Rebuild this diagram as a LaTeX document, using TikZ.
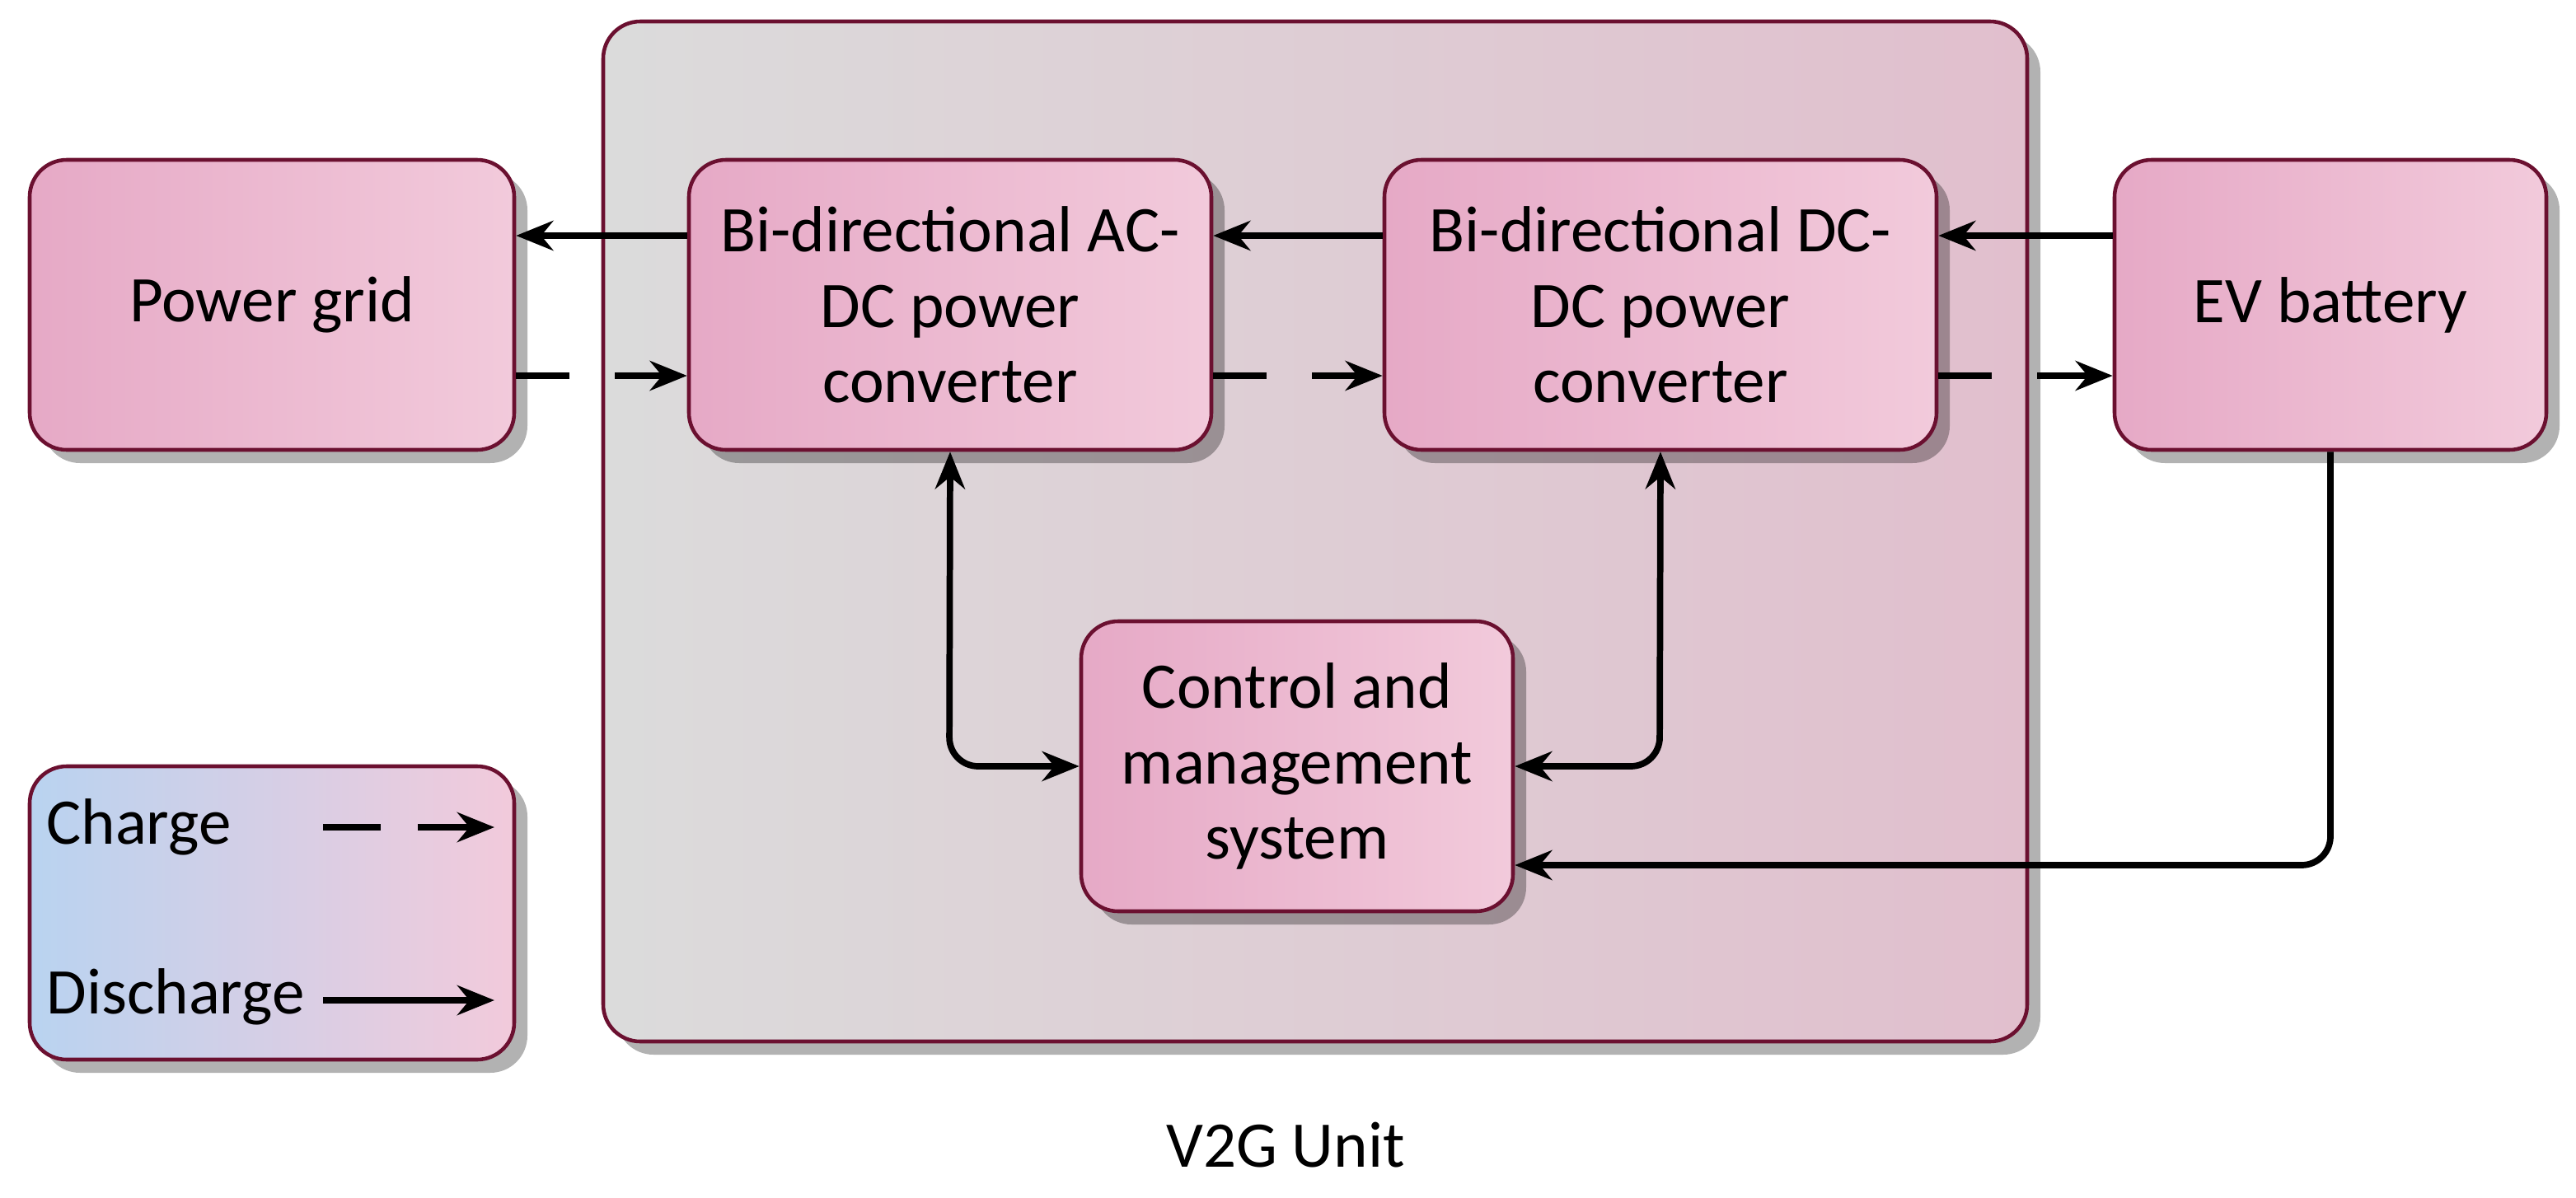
\documentclass[tikz,border=0pt]{standalone}
\usepackage{fontspec}
\setmainfont{Carlito}
\usetikzlibrary{shadows,arrows.meta}
\definecolor{bord}{HTML}{6B1030}
\definecolor{pk1}{HTML}{E6A9C6}
\definecolor{pk2}{HTML}{F2CADB}
\definecolor{lb}{HTML}{B9D3F0}
\tikzset{
 box/.style={draw=bord,line width=1.3pt,rounded corners=0.45cm,left color=pk1,right color=pk2,
   drop shadow={shadow xshift=0.16cm,shadow yshift=-0.16cm,fill=black,opacity=0.3},
   align=center,font=\fontsize{22.5}{26}\selectfont,inner sep=0pt},
 arr/.style={line width=2.2pt,-{Stealth[length=0.45cm,width=0.36cm]}},
 darr/.style={line width=2.2pt,{Stealth[length=0.45cm,width=0.36cm]}-{Stealth[length=0.45cm,width=0.36cm]},rounded corners=0.35cm},
 chg/.style={arr,dash pattern=on 0.65cm off 0.55cm},
}
\begin{document}
\begin{tikzpicture}[x=0.02cm,y=-0.02cm]
\useasboundingbox (0,0) rectangle (1563,727);
% V2G unit
\node[draw=bord,line width=1.3pt,rounded corners=0.45cm,left color=gray!28,right color=pk2!85!gray,
  drop shadow={shadow xshift=0.16cm,shadow yshift=-0.16cm,fill=black,opacity=0.3},
  minimum width=864*0.02cm,minimum height=619*0.02cm,inner sep=0pt] (unit) at (798,322.5) {};
\node[font=\fontsize{22.5}{26}\selectfont] (ut) at (780,695) {V2G Unit};
\node[box,minimum width=294*0.02cm,minimum height=176*0.02cm] (pg) at (165,185) {Power grid};
\node[box,minimum width=317*0.02cm,minimum height=176*0.02cm] (ac) at (576.5,185) {Bi-directional AC-\\DC power\\converter};
\node[box,minimum width=335*0.02cm,minimum height=176*0.02cm] (dc) at (1007.5,185) {Bi-directional DC-\\DC power\\converter};
\node[box,minimum width=262*0.02cm,minimum height=176*0.02cm] (ev) at (1414,185) {EV battery};
\node[box,minimum width=262*0.02cm,minimum height=176*0.02cm] (cm) at (787,465) {Control and\\management\\system};
\node[draw=bord,line width=1.3pt,rounded corners=0.45cm,left color=lb,right color=pk2,
  drop shadow={shadow xshift=0.16cm,shadow yshift=-0.16cm,fill=black,opacity=0.3},
  minimum width=294*0.02cm,minimum height=178*0.02cm] (lg) at (165,554) {};
\node[font=\fontsize{22.5}{26}\selectfont,anchor=west] (lc) at (22,502) {Charge};
\node[font=\fontsize{22.5}{26}\selectfont,anchor=west] (ld) at (22,605) {Discharge};
\coordinate (c1) at (196,502); \coordinate (c2) at (300,502);
\coordinate (d1) at (196,607); \coordinate (d2) at (300,607);
\draw[arr,dash pattern=on 0.7cm off 0.45cm] (c1) -- (c2);
\draw[arr] (d1) -- (d2);
% discharge
\draw[arr] (ac.west|-0,143) -- (pg.east|-0,143);
\draw[arr] (dc.west|-0,143) -- (ac.east|-0,143);
\draw[arr] (ev.west|-0,143) -- (dc.east|-0,143);
% charge
\draw[chg] (pg.east|-0,228) -- (ac.west|-0,228);
\draw[chg] (ac.east|-0,228) -- (dc.west|-0,228);
\draw[chg] (dc.east|-0,228) -- (ev.west|-0,228);
% control
\draw[darr] (ac.south) -- (576,465) -- (cm.west);
\draw[darr] (dc.south) -- (1007,465) -- (cm.east);
\draw[arr,rounded corners=0.35cm] (ev.south) -- (1414,525) -- (cm.east|-0,525);
\end{tikzpicture}
\end{document}
